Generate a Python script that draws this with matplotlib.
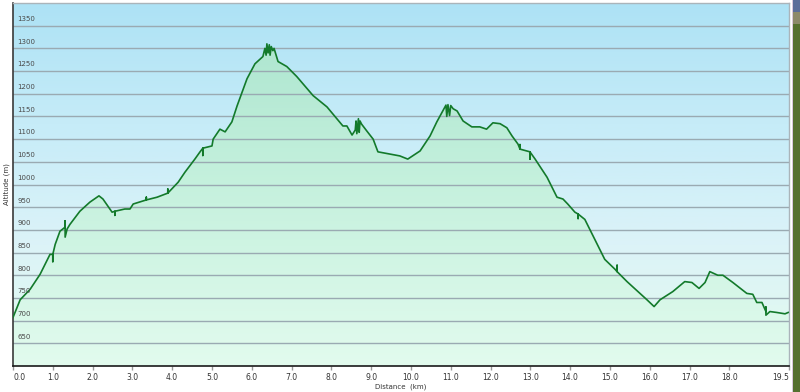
"""Elevation profile of a hiking track, drawn like the GPS software export."""

import matplotlib

matplotlib.use("Agg")

import matplotlib.pyplot as plt
import numpy as np
from matplotlib.colors import LinearSegmentedColormap
from matplotlib.patches import Rectangle
from matplotlib.transforms import blended_transform_factory

# distance along the track (km) and altitude (m)
distance_km = [
    0.00, 0.18, 0.43, 0.68, 0.93, 1.00, 1.00, 1.00, 1.06, 1.18, 1.31, 1.31, 1.31,
    1.36, 1.43, 1.68, 1.93, 2.16, 2.26, 2.49, 2.56, 2.56, 2.56, 2.81, 2.94, 3.02,
    3.35, 3.35, 3.35, 3.62, 3.89, 3.89, 3.89, 4.15, 4.32, 4.57, 4.70, 4.77, 4.77,
    4.77, 5.00, 5.03, 5.20, 5.33, 5.50, 5.63, 5.88, 6.08, 6.28, 6.33, 6.36, 6.38,
    6.41, 6.44, 6.46, 6.49, 6.53, 6.56, 6.66, 6.88, 7.13, 7.54, 7.89, 8.29, 8.39,
    8.52, 8.60, 8.62, 8.64, 8.68, 8.70, 8.72, 8.76, 8.89, 9.05, 9.17, 9.47, 9.72,
    9.92, 10.23, 10.48, 10.65, 10.80, 10.88, 10.90, 10.93, 10.97, 11.00, 11.06,
    11.16, 11.31, 11.53, 11.73, 11.90, 12.06, 12.24, 12.41, 12.54, 12.69, 12.74,
    12.74, 12.74, 12.91, 12.99, 12.99, 12.99, 13.12, 13.42, 13.67, 13.82, 13.94,
    14.12, 14.20, 14.20, 14.20, 14.37, 14.62, 14.87, 15.13, 15.18, 15.18, 15.18,
    15.43, 15.93, 16.11, 16.26, 16.58, 16.88, 17.06, 17.24, 17.39, 17.51, 17.71,
    17.84, 18.09, 18.44, 18.59, 18.69, 18.82, 18.92, 18.92, 18.92, 19.02, 19.19,
    19.40, 19.48,
]
altitude_m = [
    707, 746, 769, 802, 846, 846, 830, 846, 868, 897, 906, 920, 884,
    902, 912, 941, 961, 975, 968, 939, 941, 932, 941, 946, 946, 957,
    966, 972, 966, 972, 981, 990, 981, 1005, 1027, 1056, 1072, 1080, 1064,
    1080, 1085, 1100, 1122, 1116, 1138, 1173, 1233, 1266, 1282, 1300, 1285, 1310,
    1290, 1308, 1285, 1304, 1295, 1300, 1271, 1260, 1238, 1196, 1171, 1129, 1129,
    1109, 1120, 1140, 1112, 1145, 1115, 1140, 1133, 1118, 1100, 1072, 1067, 1063,
    1056, 1074, 1107, 1138, 1162, 1175, 1150, 1176, 1152, 1174, 1167,
    1162, 1140, 1127, 1127, 1122, 1136, 1134, 1125, 1107, 1089, 1078,
    1088, 1078, 1074, 1072, 1056, 1072, 1056, 1016, 972, 968, 957,
    939, 935, 925, 935, 923, 879, 835, 813, 808, 822, 808,
    786, 746, 731, 746, 764, 786, 784, 771, 784, 808, 800,
    800, 784, 760, 758, 740, 740, 720, 730, 712, 720, 718,
    715, 718,
]

x_ticks = [0, 1, 2, 3, 4, 5, 6, 7, 8, 9, 10, 11, 12, 13, 14, 15, 16, 17, 18, 19.5]
y_ticks = [650, 700, 750, 800, 850, 900, 950, 1000, 1050, 1100, 1150, 1200, 1250, 1300, 1350]

X_MAX = 19.5
Y_MIN, Y_MAX = 600, 1400


def main() -> None:
    fig = plt.figure(figsize=(8.0, 3.92), dpi=100)
    fig.patch.set_facecolor("white")
    ax = fig.add_axes([13 / 800, 26 / 392, 776 / 800, 363 / 392])
    ax.set_xlim(0, X_MAX)
    ax.set_ylim(Y_MIN, Y_MAX)

    _draw_background(ax)
    _draw_profile(ax)
    _draw_grid(ax)
    _style_axes(ax)
    _draw_map_strip(fig)

    fig.savefig("out.png", dpi=100)
    plt.close(fig)


def _draw_background(ax) -> None:
    sky = LinearSegmentedColormap.from_list(
        "sky", ["#e2fbee", "#dcf3f8", "#c6ecf8", "#ade2f5"]
    )
    gradient = np.linspace(0, 1, 256).reshape(-1, 1)
    ax.imshow(
        gradient,
        cmap=sky,
        origin="lower",
        aspect="auto",
        extent=[0, X_MAX, Y_MIN, Y_MAX],
        zorder=0,
    )


def _draw_profile(ax) -> None:
    fill_cmap = LinearSegmentedColormap.from_list(
        "fill", ["#e2fbee", "#c8f2df", "#aee6d0"]
    )
    gradient = np.linspace(0, 1, 256).reshape(-1, 1)
    image = ax.imshow(
        gradient,
        cmap=fill_cmap,
        origin="lower",
        aspect="auto",
        extent=[0, X_MAX, Y_MIN, 1320],
        zorder=1,
    )
    poly = ax.fill_between(distance_km, altitude_m, Y_MIN, color="none", zorder=1)
    clip_path = poly.get_paths()[0]
    image.set_clip_path(clip_path, transform=ax.transData)
    ax.plot(distance_km, altitude_m, color="#137a2b", linewidth=1.2, zorder=4)


def _draw_grid(ax) -> None:
    label_tf = blended_transform_factory(ax.transAxes, ax.transData)
    for value in y_ticks:
        ax.axhline(value, color="#9aaab2", linewidth=1.0, zorder=2)
        ax.text(
            0.006,
            value + 8,
            str(value),
            transform=label_tf,
            fontsize=5,
            color="#4a4a4a",
            ha="left",
            va="bottom",
            zorder=5,
        )


def _style_axes(ax) -> None:
    ax.set_yticks([])
    ax.set_xticks(x_ticks)
    ax.set_xticklabels([f"{t:.1f}" for t in x_ticks], fontsize=5.5, color="#333333")
    ax.tick_params(axis="x", length=3, width=1, color="#999999", pad=2)
    labels = ax.get_xticklabels()
    labels[0].set_horizontalalignment("left")
    labels[-1].set_horizontalalignment("right")
    for side in ("top", "right"):
        ax.spines[side].set_color("#aab4ba")
        ax.spines[side].set_linewidth(1.0)
    ax.spines["left"].set_color("#3a3a3a")
    ax.spines["left"].set_linewidth(1.2)
    ax.spines["bottom"].set_color("#1a1a1a")
    ax.spines["bottom"].set_linewidth(1.2)
    ax.set_xlabel("Distance  (km)", fontsize=5, color="#333333", labelpad=1)
    ax.set_ylabel("Altitude (m)", fontsize=5, color="#333333", labelpad=2)


def _draw_map_strip(fig) -> None:
    # thumbnail of the map view that sits at the right edge of the screenshot
    fig.patches.append(
        Rectangle((792 / 800, 0), 1 / 800, 1, transform=fig.transFigure,
                  facecolor="#d8c8dc", edgecolor="none")
    )
    fig.patches.append(
        Rectangle((793 / 800, 0), 7 / 800, 1, transform=fig.transFigure,
                  facecolor="#55702f", edgecolor="none")
    )
    fig.patches.append(
        Rectangle((793 / 800, 368 / 392), 7 / 800, 24 / 392, transform=fig.transFigure,
                  facecolor="#8c8a6a", edgecolor="none")
    )
    fig.patches.append(
        Rectangle((793 / 800, 380 / 392), 7 / 800, 12 / 392, transform=fig.transFigure,
                  facecolor="#5a6e9a", edgecolor="none")
    )


if __name__ == "__main__":
    main()
